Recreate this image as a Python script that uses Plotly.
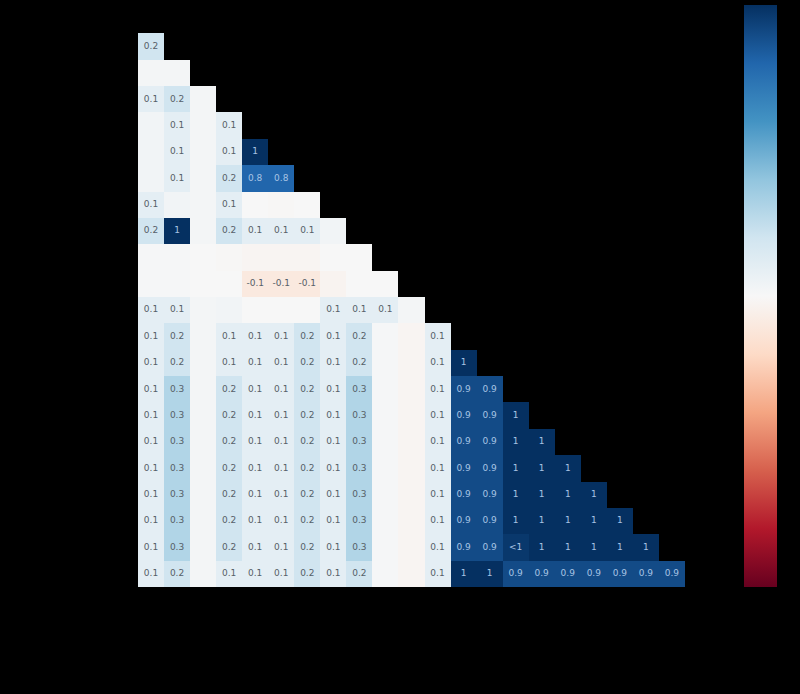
import plotly.graph_objects as go

# Nullity-correlation values (lower triangle, row i has i entries)
row_01 = [0.2]
row_02 = [0.02, 0.02]
row_03 = [0.1, 0.2, 0.02]
row_04 = [0.03, 0.1, 0.02, 0.1]
row_05 = [0.03, 0.1, 0.02, 0.1, 1.0]
row_06 = [0.03, 0.1, 0.02, 0.2, 0.8, 0.8]
row_07 = [0.1, 0.03, 0.02, 0.1, 0.0, -0.01, 0.0]
row_08 = [0.2, 1.0, 0.02, 0.2, 0.1, 0.1, 0.1, 0.03]
row_09 = [0.01, 0.01, 0.0, -0.01, -0.02, -0.02, -0.02, 0.0, 0.0]
row_10 = [0.01, 0.01, 0.0, 0.0, -0.1, -0.1, -0.1, -0.03, 0.0, 0.0]
row_11 = [0.1, 0.1, 0.02, 0.03, 0.0, 0.0, 0.0, 0.1, 0.1, 0.1, 0.02]
row_12 = [0.1, 0.2, 0.02, 0.1, 0.1, 0.1, 0.2, 0.1, 0.2, 0.01, -0.02, 0.1]
row_13 = [0.1, 0.2, 0.02, 0.1, 0.1, 0.1, 0.2, 0.1, 0.2, 0.01, -0.02, 0.1, 1.0]
row_14 = [0.1, 0.3, 0.02, 0.2, 0.1, 0.1, 0.2, 0.1, 0.3, 0.01, -0.02, 0.1, 0.9, 0.9]
row_15 = [0.1, 0.3, 0.02, 0.2, 0.1, 0.1, 0.2, 0.1, 0.3, 0.01, -0.02, 0.1, 0.9, 0.9, 1.0]
row_16 = [0.1, 0.3, 0.02, 0.2, 0.1, 0.1, 0.2, 0.1, 0.3, 0.01, -0.02, 0.1, 0.9, 0.9, 1.0, 1.0]
row_17 = [0.1, 0.3, 0.02, 0.2, 0.1, 0.1, 0.2, 0.1, 0.3, 0.01, -0.02, 0.1, 0.9, 0.9, 1.0, 1.0, 1.0]
row_18 = [0.1, 0.3, 0.02, 0.2, 0.1, 0.1, 0.2, 0.1, 0.3, 0.01, -0.02, 0.1, 0.9, 0.9, 1.0, 1.0, 1.0, 1.0]
row_19 = [0.1, 0.3, 0.02, 0.2, 0.1, 0.1, 0.2, 0.1, 0.3, 0.01, -0.02, 0.1, 0.9, 0.9, 1.0, 1.0, 1.0, 1.0, 1.0]
row_20 = [0.1, 0.3, 0.02, 0.2, 0.1, 0.1, 0.2, 0.1, 0.3, 0.01, -0.02, 0.1, 0.9, 0.9, 0.97, 1.0, 1.0, 1.0, 1.0, 1.0]
row_21 = [0.1, 0.2, 0.02, 0.1, 0.1, 0.1, 0.2, 0.1, 0.2, 0.01, -0.02, 0.1, 1.0, 1.0, 0.9, 0.9, 0.9, 0.9, 0.9, 0.9, 0.9]

rows = [[], row_01, row_02, row_03, row_04, row_05, row_06, row_07, row_08, row_09,
        row_10, row_11, row_12, row_13, row_14, row_15, row_16, row_17, row_18,
        row_19, row_20, row_21]
n = len(rows)

# matplotlib RdBu
rdbu = ["#67001f", "#b2182b", "#d6604d", "#f4a582", "#fddbc7", "#f7f7f7",
        "#d1e5f0", "#92c5de", "#4393c3", "#2166ac", "#053061"]
colorscale = [[i / 10, c] for i, c in enumerate(rdbu)]


def label(t):
    if 0.95 <= t < 1:
        return "<1"
    if -1 < t <= -0.95:
        return ">-1"
    if t == 1:
        return "1"
    if t == -1:
        return "-1"
    if -0.05 < t < 0.05:
        return ""
    return str(round(t, 1))


z = []
for i in range(n):
    z.append([rows[i][j] if j < len(rows[i]) else None for j in range(n)])

tx, ty, tt, tc = [], [], [], []
for i in range(n):
    for j, v in enumerate(rows[i]):
        s = label(v)
        if s:
            tx.append(j)
            ty.append(i)
            tt.append(s)
            tc.append("#a8c4e4" if abs(v) > 0.6 else "#565f68")

L, R, T, B = 138, 711, 5, 587
W, H = R - L, B - T

fig = go.Figure()
fig.add_trace(go.Heatmap(
    z=z, x=list(range(n)), y=list(range(n)),
    zmin=-1, zmax=1, colorscale=colorscale, hoverongaps=False,
    colorbar=dict(
        x=(744 - L) / W, xanchor="left", xpad=0,
        y=(B - 295) / H, yanchor="middle", len=584 / H, lenmode="fraction", ypad=0,
        thickness=33, outlinewidth=0,
        tickvals=[-1, -0.75, -0.5, -0.25, 0, 0.25, 0.5, 0.75, 1],
        ticks="outside", ticklen=4, tickcolor="#000000",
        showticklabels=False,
    ),
))
fig.add_trace(go.Scatter(
    x=tx, y=ty, text=tt, mode="text",
    textfont=dict(family="DejaVu Sans", size=9, color=tc),
    hoverinfo="skip", showlegend=False,
))

fig.update_xaxes(range=[-0.5, n - 0.5], showgrid=False, zeroline=False,
                 showticklabels=False, ticks="")
fig.update_yaxes(range=[n - 0.5, -0.5], showgrid=False, zeroline=False,
                 showticklabels=False, ticks="")
fig.update_layout(
    width=800, height=694,
    margin=dict(l=L, r=800 - R, t=T, b=694 - B),
    paper_bgcolor="#000000", plot_bgcolor="#000000",
    showlegend=False,
)
fig.write_html("out.html")
